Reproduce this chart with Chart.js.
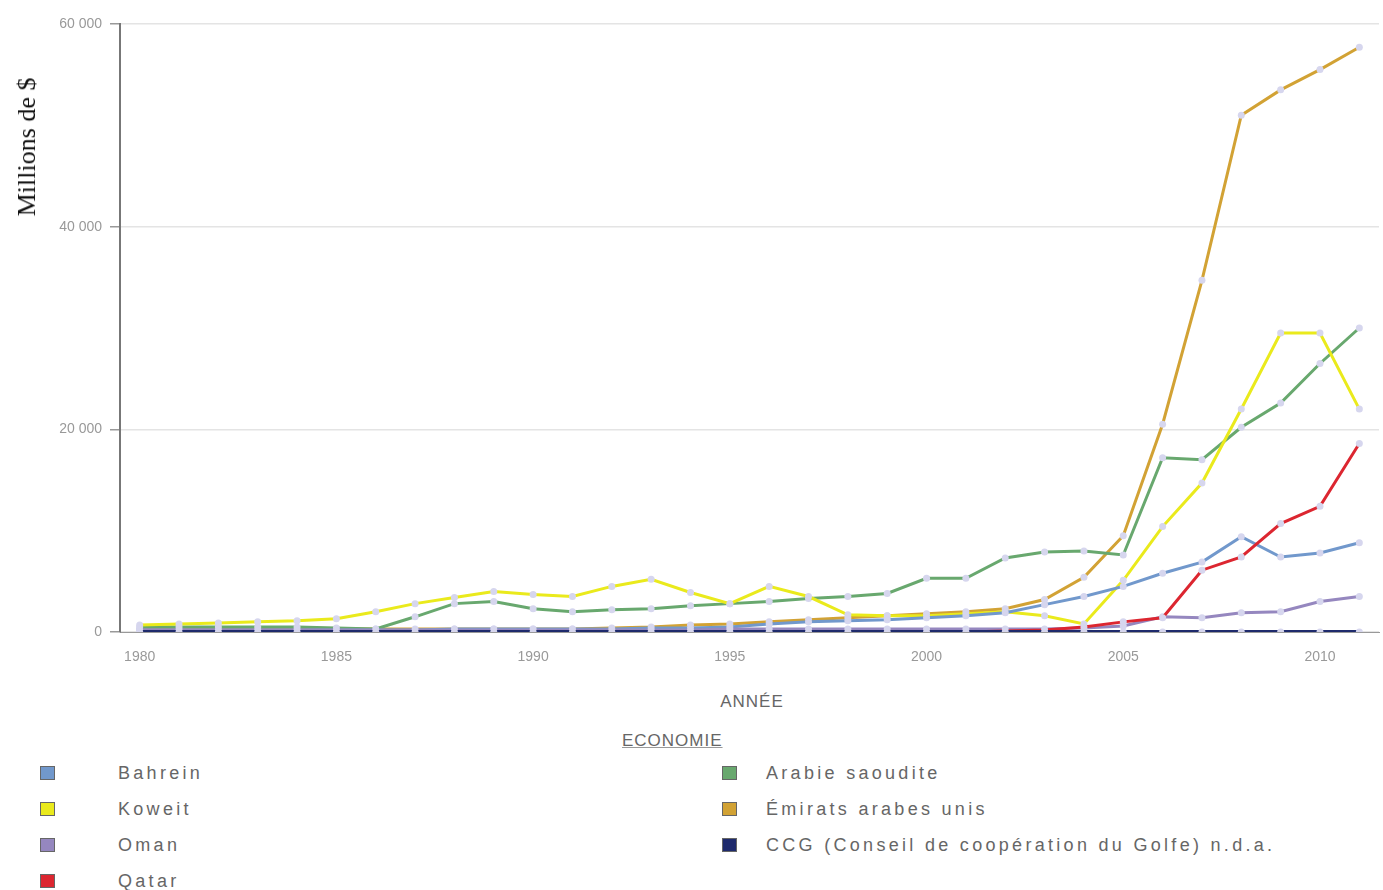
<!DOCTYPE html>
<html>
<head>
<meta charset="utf-8">
<script src="https://cdn.jsdelivr.net/npm/chart.js@4"></script>
<style>
  body { margin: 0; background: #fff; width: 1383px; height: 890px; position: relative; overflow: hidden; font-family: "Liberation Sans", Arial, sans-serif; }
  #wrap { position: absolute; left: 0; top: 0; width: 1383px; height: 672px; }
  #ytitle { position: absolute; left: 27px; top: 147px; transform: translate(-50%, -50%) rotate(-90deg); font-family: "Liberation Serif", "Times New Roman", serif; font-size: 26px; color: #111; white-space: nowrap; }
  #xtitle { position: absolute; left: 752px; top: 702px; transform: translate(-50%, -50%); font-size: 17px; color: #666; letter-spacing: 1px; }
  #legtitle { position: absolute; left: 622px; top: 731px; font-size: 17px; color: #666; letter-spacing: 1px; text-decoration: underline; text-decoration-color: #999; }
  .item { position: absolute; height: 20px; line-height: 20px; font-size: 18px; color: #666; letter-spacing: 3.3px; white-space: nowrap; }
  .item i { position: absolute; left: 0; top: 3px; width: 13px; height: 12px; border: 1px solid #666; }
  .item span { position: absolute; top: 0; }
</style>
</head>
<body>
<div id="wrap"><canvas id="lineChart"></canvas></div>
<div id="ytitle">Millions de $</div>
<div id="xtitle">ANNÉE</div>
<div id="legtitle">ECONOMIE</div>
<div id="legend"></div>
<script>
const years = ['1980','1981','1982','1983','1984','1985','1986','1987','1988','1989','1990','1991','1992','1993','1994','1995',
  '1996','1997','1998','1999','2000','2001','2002','2003','2004','2005','2006','2007','2008','2009','2010','2011'];

const bahrein = [200, 200, 200, 200, 200, 200, 200, 200, 300, 300, 300, 300, 300, 400, 400, 500,
  800, 1000, 1100, 1200, 1400, 1600, 1900, 2700, 3500, 4500, 5800, 6900, 9400, 7400, 7800, 8800];
const koweit = [700, 800, 900, 1000, 1100, 1300, 2000, 2800, 3400, 4000, 3700, 3500, 4500, 5200, 3900, 2800,
  4500, 3500, 1700, 1600, 1600, 1800, 2000, 1600, 800, 5100, 10400, 14700, 22000, 29500, 29500, 22000];
const oman = [200, 200, 200, 200, 200, 200, 200, 200, 200, 200, 200, 200, 200, 200, 200, 300,
  300, 300, 300, 300, 300, 300, 300, 300, 400, 600, 1500, 1400, 1900, 2000, 3000, 3500];
const qatar = [0, 0, 0, 0, 0, 0, 0, 0, 0, 0, 0, 0, 0, 0, 0, 0,
  0, 0, 0, 0, 0, 0, 100, 200, 500, 1000, 1400, 6100, 7400, 10700, 12400, 18600];
const saoudite = [500, 500, 500, 500, 500, 400, 300, 1500, 2800, 3000, 2300, 2000, 2200, 2300, 2600, 2800,
  3000, 3300, 3500, 3800, 5300, 5300, 7300, 7900, 8000, 7600, 17200, 17000, 20200, 22600, 26500, 30000];
const emirats = [300, 300, 300, 300, 300, 300, 300, 300, 300, 300, 300, 300, 400, 500, 700, 800,
  1000, 1200, 1400, 1600, 1800, 2000, 2300, 3200, 5400, 9500, 20500, 34700, 51000, 53500, 55500, 57700];
const ccg = [0, 0, 0, 0, 0, 0, 0, 0, 0, 0, 0, 0, 0, 0, 0, 0,
  0, 0, 0, 0, 0, 0, 0, 0, 0, 0, 0, 0, 0, 0, 0, 0];

const yTicks = [0, 20000, 40000, 60000];

const series = [
  { label: 'Bahrein', data: bahrein, color: '#7198cc', order: 3 },
  { label: 'Arabie saoudite', data: saoudite, color: '#68a86e', order: 5 },
  { label: 'Koweit', data: koweit, color: '#eaea1c', order: 4 },
  { label: 'Émirats arabes unis', data: emirats, color: '#d2a234', order: 6 },
  { label: 'Oman', data: oman, color: '#9587bf', order: 2 },
  { label: 'CCG (Conseil de coopération du Golfe) n.d.a.', data: ccg, color: '#1e2a6c', order: 0 },
  { label: 'Qatar', data: qatar, color: '#dc2630', order: 1 }
];

// legend, two columns like the original
const legend = document.getElementById('legend');
const leftCol = ['Bahrein', 'Koweit', 'Oman', 'Qatar'];
const rightCol = ['Arabie saoudite', 'Émirats arabes unis', 'CCG (Conseil de coopération du Golfe) n.d.a.'];
function addItem(name, row, x, textX) {
  const s = series.find(d => d.label === name);
  const el = document.createElement('div');
  el.className = 'item';
  el.style.left = x + 'px';
  el.style.top = (763 + row * 36) + 'px';
  el.innerHTML = '<i style="background:' + s.color + '"></i><span style="left:' + (textX - x) + 'px">' + name + '</span>';
  legend.appendChild(el);
}
leftCol.forEach((n, i) => addItem(n, i, 40, 118));
rightCol.forEach((n, i) => addItem(n, i, 722, 766));

const ctx = document.getElementById('lineChart').getContext('2d');
new Chart(ctx, {
  type: 'line',
  data: {
    labels: years,
    datasets: series.map(s => ({
      label: s.label,
      data: s.data,
      order: s.order,
      borderColor: s.color,
      borderWidth: s.order === 0 ? 4 : 3,
      tension: 0,
      pointRadius: 3.5,
      pointBorderWidth: 0,
      pointBackgroundColor: '#d6d6ee'
    }))
  },
  options: {
    responsive: true,
    maintainAspectRatio: false,
    animation: false,
    layout: { padding: { top: 24, right: 0, left: 0, bottom: 0 } },
    plugins: {
      legend: { display: false },
      tooltip: { enabled: false }
    },
    scales: {
      x: {
        type: 'category',
        offset: true,
        grid: { display: false, drawTicks: false },
        border: { display: true, color: '#999', width: 1 },
        ticks: {
          autoSkip: false,
          maxRotation: 0,
          padding: 17,
          color: '#999',
          font: { family: 'Liberation Sans', size: 14 },
          callback: function (v, i) { return (+years[i]) % 5 === 0 ? years[i] : null; }
        },
        afterFit: scale => { scale.height = 40; }
      },
      y: {
        min: 0,
        max: 60000,
        afterBuildTicks: scale => { scale.ticks = yTicks.map(v => ({ value: v })); },
        grid: { color: '#e4e4e4', lineWidth: 1.5, tickLength: 10, tickColor: '#999' },
        border: { display: true, color: '#777', width: 2 },
        ticks: {
          padding: 8,
          color: '#999',
          font: { family: 'Liberation Sans', size: 14 },
          callback: v => v.toLocaleString('fr-FR').replace(/\s/g, ' ')
        },
        afterFit: scale => { scale.width = 120; }
      }
    }
  }
});
</script>
</body>
</html>
